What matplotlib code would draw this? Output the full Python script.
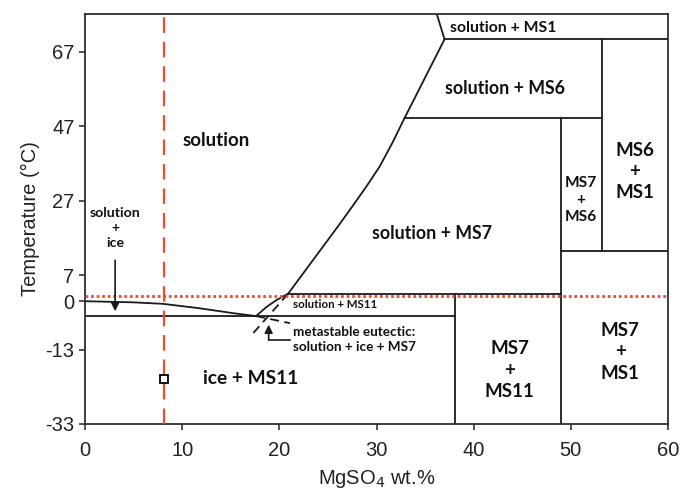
import matplotlib
matplotlib.use("Agg")
import numpy as np
import matplotlib.pyplot as plt

plt.rcParams["axes.unicode_minus"] = False

# phase boundaries, MgSO4 wt.% vs temperature (degC)
ice_liq_x = [0.0, 4.9, 8.0, 11.8, 15.2, 17.6]
ice_liq_t = [0.0, -0.3, -0.7, -1.9, -3.2, -4.0]

ms11_liq_x = [17.6, 18.7, 19.7, 20.9]
ms11_liq_t = [-4.0, -1.5, 0.3, 2.0]

ms7_liq_x = [20.9, 22.6, 24.3, 26.0, 27.6, 29.0, 30.3, 31.6, 32.9]
ms7_liq_t = [2.0, 8.0, 14.0, 20.0, 25.8, 31.0, 36.1, 42.4, 49.3]

ms6_liq_x = [32.9, 37.0]
ms6_liq_t = [49.3, 70.4]

ms1_liq_x = [37.0, 36.2]
ms1_liq_t = [70.4, 77.2]

# metastable extensions (dashed)
meta_ms7_x = [20.9, 17.0]
meta_ms7_t = [2.0, -9.5]
meta_ice_x = [17.6, 21.1]
meta_ice_t = [-4.0, -5.9]

# horizontal invariant lines: (T, x_start, x_end)
h_lines = [
    (-4.0, 0.0, 38.1),
    (2.0, 20.9, 49.0),
    (13.5, 49.0, 60.0),
    (49.3, 32.9, 53.2),
    (70.4, 37.0, 60.0),
]
# vertical compound lines: (x, T_start, T_end)
v_lines = [
    (38.1, -33.0, 2.0),
    (49.0, -33.0, 49.3),
    (53.2, 13.5, 70.4),
]

sample_x = 8.1
sample_t = -21.0
freeze_t = 1.5

region_labels = [
    ("solution", 13.5, 43.1, 13.5),
    ("solution\n+\nice", 3.1, 19.7, 10.2),
    ("solution + MS1", 43.0, 73.5, 11.3),
    ("solution + MS6", 43.2, 57.2, 12.8),
    ("solution + MS7", 35.7, 18.3, 12.8),
    ("MS7\n+\nMS6", 51.0, 27.2, 11.2),
    ("MS6\n+\nMS1", 56.6, 34.8, 13.5),
    ("MS7\n+\nMS11", 43.7, -18.5, 13.5),
    ("MS7\n+\nMS1", 55.1, -13.6, 13.5),
    ("ice + MS11", 17.0, -20.9, 13.8),
]

xticks = [0, 10, 20, 30, 40, 50, 60]
yticks = [67, 47, 27, 7, 0, -13, -33]

red = "#ef4b2c"
lc = "#1a1a1a"
lw = 1.3
tfont = ["Lato", "DejaVu Sans"]

fig = plt.figure(figsize=(6.8, 4.91), dpi=100)
ax = fig.add_axes([0.125, 0.1365, 0.8574, 0.835])

ax.plot(ice_liq_x, ice_liq_t, color=lc, lw=lw)
ax.plot(ms11_liq_x, ms11_liq_t, color=lc, lw=lw)
ax.plot(ms7_liq_x, ms7_liq_t, color=lc, lw=lw)
ax.plot(ms6_liq_x, ms6_liq_t, color=lc, lw=lw)
ax.plot(ms1_liq_x, ms1_liq_t, color=lc, lw=lw)
ax.plot(meta_ms7_x, meta_ms7_t, color=lc, lw=lw, dashes=(5, 3))
ax.plot(meta_ice_x, meta_ice_t, color=lc, lw=lw, dashes=(5, 3))

for t, x0, x1 in h_lines:
    ax.plot([x0, x1], [t, t], color=lc, lw=lw)
for x, t0, t1 in v_lines:
    ax.plot([x, x], [t0, t1], color=lc, lw=lw)

ax.axvline(sample_x, color=red, lw=1.6, dashes=(7, 4), zorder=3)
ax.axhline(freeze_t, color=red, lw=2.0, dashes=(1, 1), zorder=3)
ax.plot([sample_x], [sample_t], marker="s", ms=6, mfc="none", mec="black",
        mew=1.3, zorder=4)

for txt, x, y, fs in region_labels:
    ax.text(x, y, txt, ha="center", va="center", fontsize=fs,
            fontweight="bold", family=tfont, linespacing=1.3, color="#111111")

# arrow into the thin solution + ice field
ax.annotate("", xy=(3.1, -2.7), xytext=(3.1, 11.0),
            arrowprops=dict(arrowstyle="-|>", color=lc, lw=1.2,
                            mutation_scale=12, shrinkA=0, shrinkB=0))

ax.text(21.4, -1.0, "solution + MS11", ha="left", va="center", fontsize=8.3,
        fontweight="bold", family=tfont, color="#111111")

# metastable eutectic callout
ax.plot([18.9, 21.1], [-10.4, -10.4], color=lc, lw=1.2)
ax.annotate("", xy=(18.9, -6.3), xytext=(18.9, -10.45),
            arrowprops=dict(arrowstyle="-|>", color=lc, lw=1.2,
                            mutation_scale=12, shrinkA=0, shrinkB=0))
ax.text(21.4, -10.2, "metastable eutectic:\nsolution + ice + MS7", ha="left",
        va="center", fontsize=9.7, fontweight="bold", family=tfont,
        linespacing=1.3, color="#111111")

ax.set_xlim(0, 60)
ax.set_ylim(-33, 77.2)
ax.set_xticks(xticks)
ax.set_yticks(yticks)
ax.tick_params(direction="out", length=4, width=1.1, labelsize=14.5,
               colors="#222222", top=False, right=False)
ax.tick_params(axis="x", pad=8)
for lab in ax.get_xticklabels() + ax.get_yticklabels():
    lab.set_family("Liberation Sans")
for sp in ax.spines.values():
    sp.set_linewidth(1.3)
    sp.set_color("#2a2f33")

ax.set_xlabel("MgSO$_4$ wt.%", fontsize=14.5, family="Liberation Sans",
              color="#222222", labelpad=6)
ax.set_ylabel("Temperature (\u00b0C)", fontsize=14.5, family="Liberation Sans",
              color="#222222", labelpad=4)

fig.savefig("out.png", dpi=100)
